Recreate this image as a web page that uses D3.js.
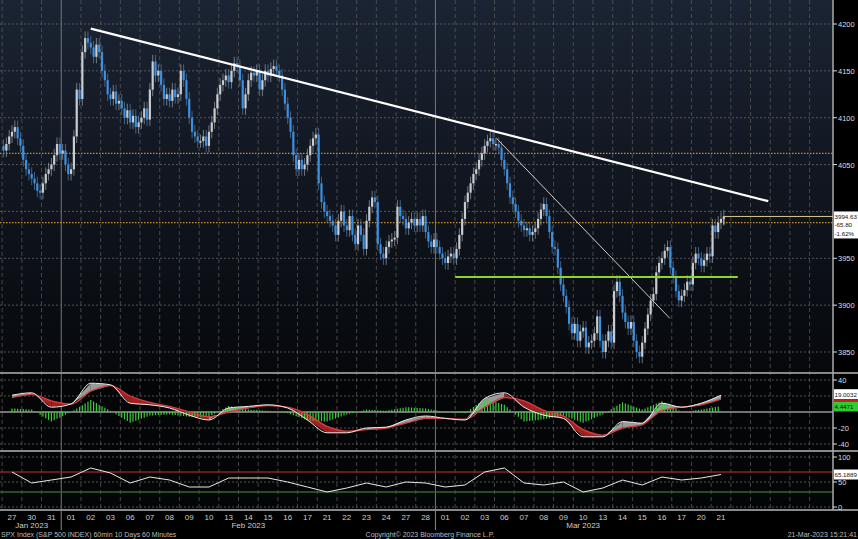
<!DOCTYPE html><html><head><meta charset="utf-8">
<script src="https://cdn.jsdelivr.net/npm/d3@7"></script>
<style>body{margin:0;background:#000}svg{display:block}</style></head><body>
<svg id="c" width="858" height="539"></svg>
<script>
const dayLabels=["27","30","31","01","02","03","06","07","08","09","10","13","14","15","16","17","21","22","23","24","27","28","01","02","03","06","07","08","09","10","13","14","15","16","17","20","21"];
const monthLabels=[{t:"Jan 2023",i:1},{t:"Feb 2023",i:12},{t:"Mar 2023",i:29}];
const monthStarts=[3,22];
const closes=[
[4065,4072,4080,4085,4090,4078,4070],[4055,4045,4040,4035,4030,4022,4020],[4030,4040,4045,4050,4060,4072,4062],
[4065,4050,4040,4045,4080,4130,4120],[4170,4185,4180,4175,4165,4178,4170],[4150,4140,4125,4120,4128,4115,4118],
[4110,4100,4108,4095,4102,4090,4095],[4100,4110,4098,4130,4160,4145,4150],[4135,4120,4125,4118,4130,4122,4125],
[4150,4140,4120,4100,4085,4080,4075],[4075,4080,4070,4085,4095,4110,4125],[4135,4140,4145,4138,4150,4158,4155],
[4140,4110,4125,4140,4148,4145,4150],[4130,4140,4150,4145,4152,4155,4150],[4145,4130,4115,4100,4085,4060,4045],
[4055,4045,4050,4060,4070,4078,4082],[4030,4010,4000,3995,3990,3985,3975],[3990,4000,3985,3980,3995,3975,3965],
[3985,3975,3960,3990,4005,4015,4010],[3965,3955,3950,3962,3968,3970,3972],[4005,3995,3992,3982,3988,3992,3985],
[3992,3985,3995,3978,3968,3962,3970],[3962,3955,3950,3945,3952,3955,3950],[3960,3975,3992,4010,4020,4030,4040],
[4045,4055,4062,4070,4075,4078,4072],[4072,4068,4055,4045,4030,4015,4008],[4000,3990,3985,3980,3982,3975,3978],
[3982,3992,4002,4008,3995,3978,3962],[3960,3940,3922,3910,3898,3880,3870],[3880,3862,3872,3876,3855,3860,3862],
[3870,3888,3862,3850,3862,3872,3860],[3915,3925,3910,3892,3882,3875,3882],[3862,3850,3845,3860,3875,3890,3905],
[3912,3935,3945,3950,3958,3962,3940],[3930,3915,3905,3910,3916,3925,3922],[3945,3955,3950,3942,3948,3955,3952],
[3985,3978,3988,3992,3994.63]];
const priceTicks=[4200,4150,4100,4050,4000,3950,3900,3850];
const refLevels=[4062,3988];
const trendMain=[[4,4195],[38.4,4011]];
const trendThin=[[24.6,4078],[33.4,3886]];
const support=[[22.5,3930],[36.85,3930]];
const lastPrice=3994.63, chg="-65.80", pct="-1.62%";
const macd=[21,24,6,10,36,34,11,9,5,-4,-10,5,7,9,5,-10,-26,-26,-20,-19,-10,-5,-8,-10,17,24,6,-4,-8,-31,-31,-12,-14,11,6,11,21];
const signal=[18,22,14,10,26,33,20,12,7,0,-6,0,5,8,6,-3,-18,-24,-22,-20,-14,-8,-8,-9,6,18,14,2,-5,-22,-29,-20,-16,2,6,9,16];
const macdTicks=[40,-20,-40];
const rsi=[70,48,54,60,78,68,48,60,54,40,40,58,58,58,50,40,30,38,48,40,50,48,40,44,70,78,48,44,50,30,38,54,44,60,54,58,65];
const rsiTicks=[100,50,0];

const svg=d3.select("#c");
const W=833;
const defs=svg.append("defs");
const g=defs.append("linearGradient").attr("id","bg").attr("x1",0).attr("y1",0).attr("x2",0).attr("y2",1);
g.append("stop").attr("offset","0").attr("stop-color","#1b2433");
g.append("stop").attr("offset","1").attr("stop-color","#06080c");
svg.append("rect").attr("width",858).attr("height",539).attr("fill","#000");
svg.append("rect").attr("width",W).attr("height",372).attr("fill","url(#bg)");
svg.append("rect").attr("y",375).attr("width",W).attr("height",135).attr("fill","#040506");

const x=d3.scaleLinear().domain([0,36]).range([12,721]);
const y=d3.scaleLinear().domain([3850,4200]).range([352,24]);
const ym=d3.scaleLinear().domain([-40,40]).range([444,380]);
const yr=d3.scaleLinear().domain([0,100]).range([507,457]);

for(let i=0;i<=41;i++){
  const xx=x(i-0.5); if(xx>W) break;
  const solid=monthStarts.includes(i);
  svg.append("line").attr("x1",xx).attr("x2",xx).attr("y1",0).attr("y2",510)
   .attr("stroke",solid?"#777":"#555").attr("stroke-width",solid?1:0.8).attr("stroke-dasharray",solid?null:"4,3");
}
priceTicks.forEach(p=>svg.append("line").attr("x1",0).attr("x2",W).attr("y1",y(p)).attr("y2",y(p)).attr("stroke","#666").attr("stroke-dasharray","2,2").attr("stroke-width",0.8));
refLevels.forEach(p=>svg.append("line").attr("x1",0).attr("x2",W).attr("y1",y(p)).attr("y2",y(p)).attr("stroke","#c8902a").attr("stroke-dasharray","1.5,1.5").attr("stroke-width",1.2));
[40,20,-20,-40].forEach(v=>svg.append("line").attr("x1",0).attr("x2",W).attr("y1",ym(v)).attr("y2",ym(v)).attr("stroke","#666").attr("stroke-dasharray","2,2").attr("stroke-width",0.8));
svg.append("line").attr("x1",0).attr("x2",W).attr("y1",ym(0)).attr("y2",ym(0)).attr("stroke","#999").attr("stroke-width",1.5);
[100,50,0].forEach(v=>svg.append("line").attr("x1",0).attr("x2",W).attr("y1",yr(v)).attr("y2",yr(v)).attr("stroke","#666").attr("stroke-dasharray","2,2").attr("stroke-width",0.8));
svg.append("line").attr("x1",0).attr("x2",W).attr("y1",yr(70)).attr("y2",yr(70)).attr("stroke","#8a2020").attr("stroke-width",1.5);
svg.append("line").attr("x1",0).attr("x2",W).attr("y1",yr(30)).attr("y2",yr(30)).attr("stroke","#2f6a2a").attr("stroke-width",1.5);
[373,451,510].forEach(v=>svg.append("line").attr("x1",0).attr("x2",858).attr("y1",v).attr("y2",v).attr("stroke","#888").attr("stroke-width",2));
svg.append("line").attr("x1",W).attr("x2",W).attr("y1",0).attr("y2",510).attr("stroke","#aaa").attr("stroke-width",1.5);

const bars=[];let prev=closes[0][0]+5;
closes.forEach((day,d)=>day.forEach((c,h)=>{bars.push({i:d+(h+0.5)/7-0.5,o:prev,c});prev=c;}));
const cg=svg.append("g");
bars.forEach(b=>{
  const up=b.c>=b.o, col=up?"#c8ccd0":"#3d8fe0";
  const hi=Math.max(b.o,b.c)+7, lo=Math.min(b.o,b.c)-7;
  cg.append("line").attr("x1",x(b.i)).attr("x2",x(b.i)).attr("y1",y(hi)).attr("y2",y(lo)).attr("stroke",up?"#9aa0a6":"#5a7fa8").attr("stroke-width",0.7);
  cg.append("rect").attr("x",x(b.i)-1.1).attr("width",2.2).attr("y",y(Math.max(b.o,b.c))).attr("height",Math.max(1.5,Math.abs(y(b.o)-y(b.c)))).attr("fill",col);
});
const ln=d3.line().x(d=>x(d[0])).y(d=>y(d[1]));
svg.append("path").attr("d",ln(trendMain)).attr("stroke","#fff").attr("stroke-width",2.2).attr("fill","none");
svg.append("path").attr("d",ln(trendThin)).attr("stroke","#ccc").attr("stroke-width",1).attr("fill","none");
svg.append("path").attr("d",ln(support)).attr("stroke","#8fd42a").attr("stroke-width",2).attr("fill","none");
const lastI=bars[bars.length-1].i;
svg.append("line").attr("x1",x(lastI)).attr("x2",W).attr("y1",y(lastPrice)).attr("y2",y(lastPrice)).attr("stroke","#d8c890").attr("stroke-width",1);
svg.append("line").attr("x1",x(lastI)).attr("x2",x(lastI)).attr("y1",y(lastPrice)).attr("y2",y(lastPrice)+8).attr("stroke","#d8c890");

const n=macd.length;
for(let i=0;i<n-1;i++){
  const pts=[[x(i),ym(macd[i])],[x(i+1),ym(macd[i+1])],[x(i+1),ym(signal[i+1])],[x(i),ym(signal[i])]];
  const pos=(macd[i]-signal[i]+macd[i+1]-signal[i+1])>0;
  svg.append("polygon").attr("points",pts.map(p=>p.join(",")).join(" ")).attr("fill",pos?"#9a9a9a":"#a51e22");
}
for(let i=0;i<n-1;i++){for(let k=0;k<7;k++){
  const t=k/7, m=macd[i]+(macd[i+1]-macd[i])*t, s=signal[i]+(signal[i+1]-signal[i])*t, hv=(m-s)*1.5;
  const xi=i+t;
  svg.append("line").attr("x1",x(xi)).attr("x2",x(xi)).attr("y1",ym(0)).attr("y2",ym(hv)).attr("stroke","#3ecb3e").attr("stroke-width",1.2);
}}
const lm=d3.line().x((d,i)=>x(i)).y(d=>ym(d)).curve(d3.curveMonotoneX);
svg.append("path").attr("d",lm(signal)).attr("stroke","#d04040").attr("stroke-width",1.3).attr("fill","none");
svg.append("path").attr("d",lm(macd)).attr("stroke","#eee").attr("stroke-width",1).attr("fill","none");
const lr=d3.line().x((d,i)=>x(i)).y(d=>yr(d));
svg.append("path").attr("d",lr(rsi)).attr("stroke","#e8e8e8").attr("stroke-width",1).attr("fill","none");

const ax=svg.append("g").attr("font-family","Liberation Sans Narrow, Liberation Sans, Arial").attr("font-size",7.5).attr("fill","#ddd");
function tick(yy,t){ax.append("line").attr("x1",W).attr("x2",W+4).attr("y1",yy).attr("y2",yy).attr("stroke","#ddd");
 ax.append("text").attr("x",W+5).attr("y",yy+3).text(t);}
priceTicks.forEach(p=>{if(p!==4000)tick(y(p),p);});
macdTicks.forEach(v=>tick(ym(v),v));
rsiTicks.forEach(v=>tick(yr(v),v));
function box(yy,h,lines,bg,fg){ax.append("rect").attr("x",W+1).attr("y",yy).attr("width",24).attr("height",h).attr("fill",bg);
 lines.forEach((t,k)=>ax.append("text").attr("x",W+1.5).attr("y",yy+7.5+k*8.5).attr("fill",fg).attr("font-size",6.2).text(t));}
box(y(lastPrice)-5,27,[lastPrice.toFixed(2),chg,pct],"#fff","#111");
box(ym(macd[n-1])-6,10,["19.0032"],"#fff","#111");
ax.append("rect").attr("x",W+1).attr("y",ym(macd[n-1])+4).attr("width",24).attr("height",2).attr("fill","#c02020");
box(ym(4.4471)-7,10,["4.4471"],"#2ecc2e","#111");
box(yr(rsi[n-1])-5,10,["65.1889"],"#fff","#111");

const ta=svg.append("g").attr("font-family","Liberation Sans, Arial").attr("font-size",8).attr("fill","#ccc").attr("text-anchor","middle");
dayLabels.forEach((t,i)=>ta.append("text").attr("x",x(i)).attr("y",520).text(t));
monthLabels.forEach(m=>ta.append("text").attr("x",x(m.i)).attr("y",528).text(m.t));
monthStarts.forEach(i=>svg.append("line").attr("x1",x(i-0.5)).attr("x2",x(i-0.5)).attr("y1",510).attr("y2",530).attr("stroke","#888"));
const ft=svg.append("g").attr("font-family","Liberation Sans, Arial").attr("font-size",7).attr("fill","#bbb");
ft.append("text").attr("x",1).attr("y",537).text("SPX Index (S&P 500 INDEX) 60min 10 Days 60 Minutes");
ft.append("text").attr("x",430).attr("y",537).attr("text-anchor","middle").text("Copyright© 2023 Bloomberg Finance L.P.");
ft.append("text").attr("x",857).attr("y",537).attr("text-anchor","end").text("21-Mar-2023 15:21:41");
</script></body></html>
